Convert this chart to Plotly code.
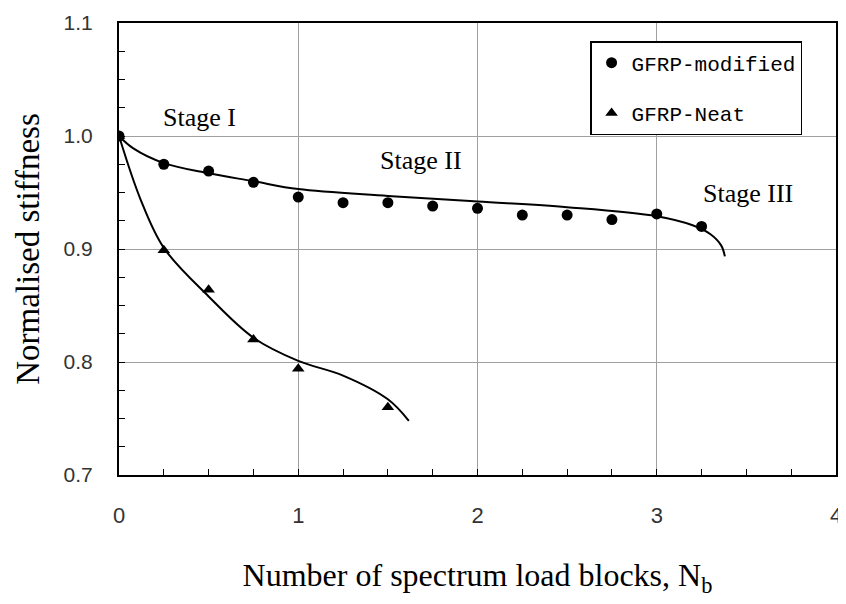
import plotly.graph_objects as go

# Measured data points
mod_x = [0, 0.25, 0.5, 0.75, 1.0, 1.25, 1.5, 1.75, 2.0, 2.25, 2.5, 2.75, 3.0, 3.25]
mod_y = [1.0, 0.975, 0.969, 0.959, 0.946, 0.941, 0.941, 0.938, 0.936, 0.930, 0.930, 0.926, 0.931, 0.920]

neat_x = [0, 0.25, 0.5, 0.75, 1.0, 1.5]
neat_y = [1.0, 0.899, 0.864, 0.820, 0.794, 0.760]

# Fitted trend curves
mod_fit_x = [0, 0.08, 0.25, 0.5, 0.75, 1.0, 1.5, 2.0, 2.5, 3.0, 3.2, 3.3, 3.36, 3.38]
mod_fit_y = [1.0, 0.989, 0.976, 0.967, 0.960, 0.953, 0.947, 0.942, 0.937, 0.929, 0.921, 0.913, 0.903, 0.8935]

neat_fit_x = [0, 0.12, 0.25, 0.5, 0.75, 1.0, 1.25, 1.5, 1.617]
neat_fit_y = [1.0, 0.944, 0.901, 0.858, 0.8215, 0.801, 0.788, 0.767, 0.748]

stage_labels = ["Stage I", "Stage II", "Stage III"]
stage_x = [0.45, 1.684, 3.51]
stage_y = [1.016, 0.978, 0.949]

x_ticks = [0, 1, 2, 3, 4]
y_ticks = [0.7, 0.8, 0.9, 1.0, 1.1]
y_tick_text = ["0.7", "0.8", "0.9", "1.0", "1.1"]

fig = go.Figure()
fig.add_trace(go.Scatter(x=mod_fit_x, y=mod_fit_y, mode="lines",
                         line=dict(color="black", width=2, shape="spline", smoothing=1.0),
                         showlegend=False, hoverinfo="skip"))
fig.add_trace(go.Scatter(x=neat_fit_x, y=neat_fit_y, mode="lines",
                         line=dict(color="black", width=2, shape="spline", smoothing=1.0),
                         showlegend=False, hoverinfo="skip"))
fig.add_trace(go.Scatter(x=mod_x, y=mod_y, mode="markers", name="GFRP-modified", legendgroup="a",
                         marker=dict(symbol="circle", size=11, color="black")))
fig.add_trace(go.Scatter(x=neat_x, y=neat_y, mode="markers", name="GFRP-Neat", legendgroup="b",
                         marker=dict(symbol="triangle-up", size=11, color="black")))

for t, x, y in zip(stage_labels, stage_x, stage_y):
    fig.add_annotation(x=x, y=y, text=t, showarrow=False,
                       font=dict(family="Liberation Serif", size=26, color="black"))

# page body has an 8px margin, so the figure is sized to fit the window
fig.update_layout(
    width=838, height=596,
    margin=dict(l=111, r=10, t=15, b=129),
    paper_bgcolor="white", plot_bgcolor="white",
    legend=dict(x=0.657, y=0.96, xanchor="left", yanchor="top",
                bgcolor="white", bordercolor="black", borderwidth=1.5,
                font=dict(family="Liberation Mono", size=21, color="black"),
                tracegroupgap=20, itemwidth=30),
)
fig.update_xaxes(
    range=[0, 4], tickvals=x_ticks, showgrid=True, gridcolor="#a0a0a0", gridwidth=1,
    showline=True, linecolor="black", linewidth=2, mirror=True,
    ticks="inside", ticklen=6, tickcolor="black",
    minor=dict(dtick=0.25, ticks="inside", ticklen=6, tickcolor="black", showgrid=False),
    ticklabelstandoff=20, automargin=False,
    tickfont=dict(family="Liberation Sans", size=22, color="#333"),
    zeroline=False,
    title=dict(text="Number of spectrum load blocks, N<sub>b</sub>", standoff=36,
               font=dict(family="Liberation Serif", size=32, color="black")),
)
fig.update_yaxes(
    range=[0.7, 1.1], tickvals=y_ticks, ticktext=y_tick_text, showgrid=True, gridcolor="#a0a0a0", gridwidth=1,
    showline=True, linecolor="black", linewidth=2, mirror=True,
    ticks="inside", ticklen=6, tickcolor="black",
    minor=dict(dtick=0.025, tick0=0.7, ticks="inside", ticklen=6, tickcolor="black", showgrid=False),
    ticklabelstandoff=20, automargin=False,
    tickfont=dict(family="Liberation Sans", size=21, color="#333"),
    zeroline=False,
    title=dict(text="Normalised stiffness", standoff=14,
               font=dict(family="Liberation Serif", size=33, color="black")),
)

fig.write_html("out.html")
